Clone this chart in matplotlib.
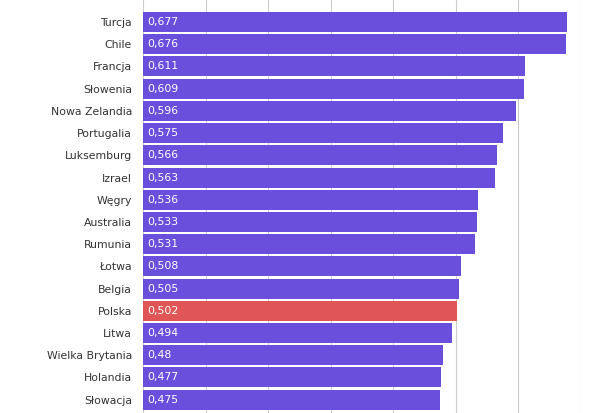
import matplotlib.pyplot as plt

countries = ["Turcja", "Chile", "Francja", "Słowenia", "Nowa Zelandia", "Portugalia",
             "Luksemburg", "Izrael", "Węgry", "Australia", "Rumunia", "Łotwa",
             "Belgia", "Polska", "Litwa", "Wielka Brytania", "Holandia", "Słowacja"]
values = [0.677, 0.676, 0.611, 0.609, 0.596, 0.575, 0.566, 0.563, 0.536, 0.533,
          0.531, 0.508, 0.505, 0.502, 0.494, 0.48, 0.477, 0.475]
labels = ["0,677", "0,676", "0,611", "0,609", "0,596", "0,575", "0,566", "0,563", "0,536",
          "0,533", "0,531", "0,508", "0,505", "0,502", "0,494", "0,48", "0,477", "0,475"]

purple = "#6a4fdc"
red = "#e05555"
colors = [red if c == "Polska" else purple for c in countries]

fig = plt.figure(figsize=(6.15, 4.13), dpi=100)
ax = fig.add_axes([143 / 615, 0, (581 - 143) / 615, 1])
pos = list(range(len(countries)))
ax.barh(pos, values, height=0.9, color=colors, zorder=2)
for p, lab in zip(pos, labels):
    ax.text(0.006, p, lab, color="white", va="center", ha="left", fontsize=7.8, zorder=3)

ax.set_xlim(0, 0.7)
ax.set_ylim(17.6, -0.99)
ax.set_yticks(pos)
ax.set_yticklabels(countries, fontsize=7.8, color="#333333")
ax.tick_params(axis="y", length=0, pad=8)
ax.set_xticks([0.1 * i for i in range(8)])
ax.tick_params(axis="x", length=0, labelbottom=False)
ax.grid(axis="x", color="#cccccc", linewidth=0.8, zorder=0)
for s in ax.spines.values():
    s.set_visible(False)

fig.savefig("out.png", dpi=100)
